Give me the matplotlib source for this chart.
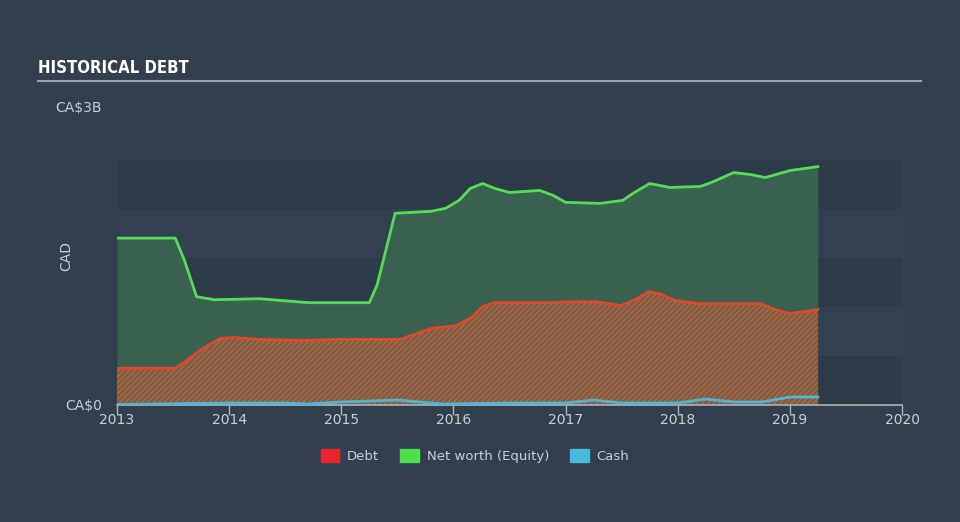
import numpy as np
import matplotlib.pyplot as plt
from matplotlib.patches import Patch

# values in CA$ billions
eq_t = [2013.0, 2013.52, 2013.6, 2013.71, 2013.87, 2014.27, 2014.71, 2015.25, 2015.32, 2015.48,
        2015.8, 2015.93, 2016.05, 2016.15, 2016.26, 2016.37, 2016.5, 2016.77, 2016.89, 2017.0,
        2017.31, 2017.51, 2017.6, 2017.75, 2017.93, 2018.2, 2018.3, 2018.5, 2018.65, 2018.78,
        2019.0, 2019.25]
equity = [1.68, 1.68, 1.46, 1.09, 1.06, 1.07, 1.03, 1.03, 1.21, 1.93,
          1.95, 1.98, 2.06, 2.18, 2.23, 2.18, 2.14, 2.16, 2.11, 2.04,
          2.03, 2.06, 2.13, 2.23, 2.19, 2.20, 2.24, 2.34, 2.32, 2.29,
          2.36, 2.40]

debt_t = [2013.0, 2013.52, 2013.6, 2013.74, 2013.92, 2014.03, 2014.27, 2014.63, 2014.99, 2015.25,
          2015.52, 2015.7, 2015.8, 2016.03, 2016.16, 2016.26, 2016.37, 2016.69, 2016.87, 2017.05,
          2017.28, 2017.49, 2017.62, 2017.74, 2017.84, 2017.98, 2018.2, 2018.74, 2018.87, 2019.0,
          2019.25]
debt = [0.37, 0.37, 0.43, 0.55, 0.67, 0.68, 0.66, 0.65, 0.66, 0.66,
        0.66, 0.73, 0.77, 0.80, 0.88, 0.99, 1.03, 1.03, 1.03, 1.04,
        1.04, 1.00, 1.06, 1.14, 1.12, 1.05, 1.02, 1.02, 0.96, 0.92,
        0.96]

cash_t = [2013.0, 2014.0, 2014.5, 2014.7, 2015.0, 2015.5, 2015.9, 2016.5, 2017.0, 2017.25,
          2017.5, 2018.0, 2018.25, 2018.5, 2018.75, 2019.0, 2019.25]
cash = [0.005, 0.02, 0.02, 0.01, 0.03, 0.05, 0.01, 0.02, 0.02, 0.05,
        0.02, 0.02, 0.06, 0.03, 0.03, 0.08, 0.08]

years = [2013, 2014, 2015, 2016, 2017, 2018, 2019, 2020]

bg = '#323f4f'
txt = '#c9ced4'
plt.rcParams['hatch.linewidth'] = 1.0

fig = plt.figure(figsize=(9.6, 5.22), dpi=100, facecolor=bg)
ax = fig.add_axes([117/960, 1-405/522, 785/960, 298/522])
ax.set_facecolor(bg)

# background bands
band = 245/298*3/5
for i in range(5):
    c = '#2d3a48' if i % 2 == 0 else '#334050'
    ax.axhspan(i*band, (i+1)*band, color=c, lw=0, zorder=0)

ax.fill_between(eq_t, 0, equity, color='#3a6150', lw=0, zorder=1)
ax.plot(eq_t, equity, color='#55dc55', lw=2, zorder=4)
ax.fill_between(debt_t, 0, debt, facecolor='#766048', edgecolor='#bc6440',
                hatch='//////', lw=0, zorder=2)
ax.plot(debt_t, debt, color='#e0482c', lw=2, zorder=4)
ax.plot(cash_t, cash, color='#4bb8da', lw=2, zorder=5)

ax.set_xlim(2013, 2020)
ax.set_ylim(0, 3)
ax.set_xticks(years)
ax.set_xticklabels([str(y) for y in years], color=txt, fontsize=10)
ax.set_yticks([0, 3])
ax.set_yticklabels(['CA$0', 'CA$3B'], color=txt, fontsize=10)
ax.tick_params(axis='x', length=7, color='#aab2bb', width=1, pad=-1)
ax.tick_params(axis='y', length=0, pad=11)
for s in ['top', 'right', 'left']:
    ax.spines[s].set_visible(False)
ax.spines['bottom'].set_color('#aab2bb')
ax.spines['bottom'].set_linewidth(1.2)
ax.set_ylabel('CAD', color=txt, fontsize=10)
ax.yaxis.set_label_coords(-0.056, 0.5)

fig.text(38/960, 1-68/522, 'HISTORICAL DEBT', color='white', fontsize=12, fontweight='bold',
         fontstretch='condensed', family=['DejaVu Sans Condensed', 'DejaVu Sans'],
         va='center', ha='left')
fig.add_artist(plt.Line2D([38/960, 921/960], [1-81/522, 1-81/522], color='#9aa3ad', lw=1.5))

handles = [Patch(color='#e8262a', label='Debt'),
           Patch(color='#4fe04f', label='Net worth (Equity)'),
           Patch(color='#48b8dc', label='Cash')]
leg = fig.legend(handles=handles, loc='center', bbox_to_anchor=(475/960, 1-456/522), ncol=3,
                 frameon=False, fontsize=9.5, handlelength=1.4, handleheight=1.1,
                 columnspacing=1.6, handletextpad=0.6)
for t in leg.get_texts():
    t.set_color(txt)

fig.savefig('out.png', dpi=100, facecolor=bg)
